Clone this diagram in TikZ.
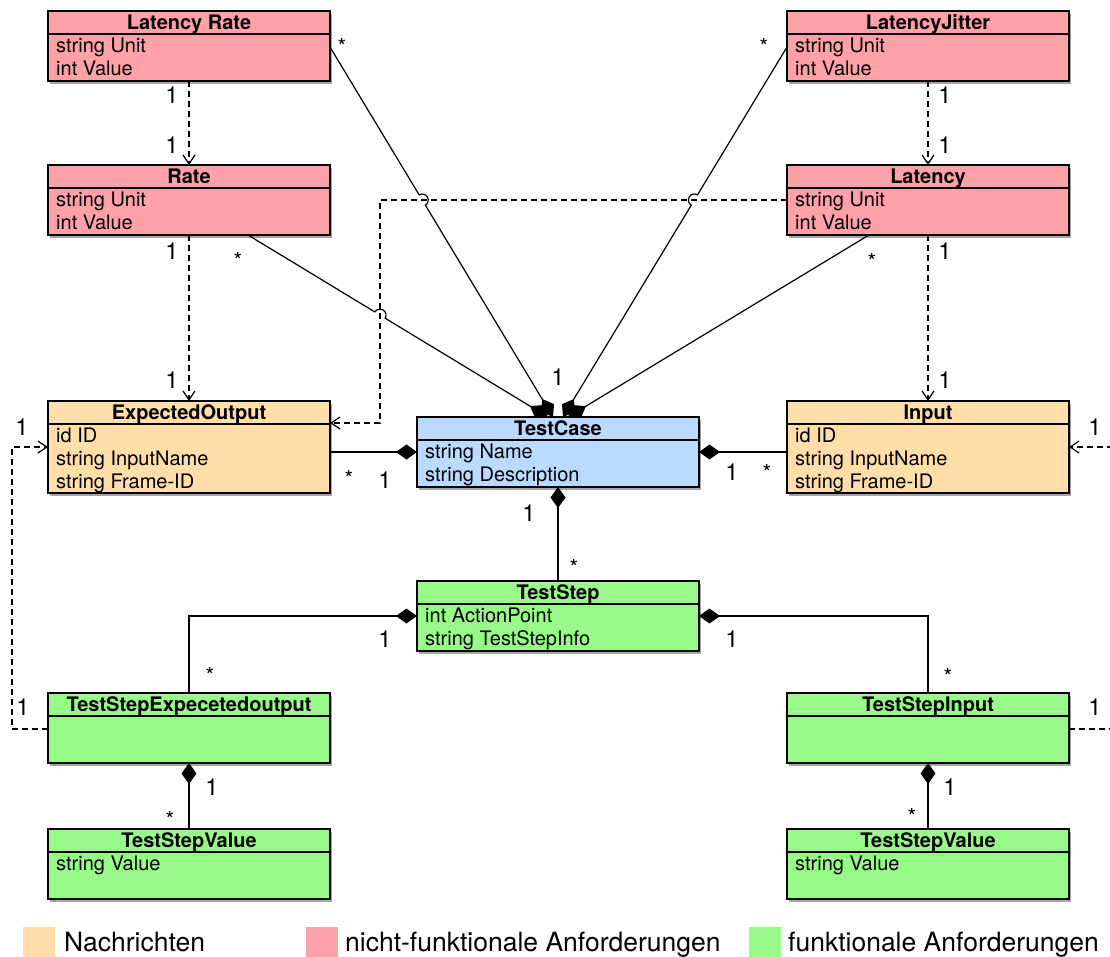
\documentclass[tikz,border=0pt]{standalone}
\usepackage{fontspec}
\setmainfont{TeX Gyre Heros}
\usetikzlibrary{arrows.meta,calc,shadows}

\definecolor{nfr}{RGB}{255,161,168}
\definecolor{msg}{RGB}{255,222,170}
\definecolor{core}{RGB}{186,218,255}
\definecolor{fr}{RGB}{152,250,137}

\tikzset{
  umlbox/.style={draw, line width=1.6pt, inner sep=0pt, outer sep=0pt, anchor=north west,
    minimum width=282pt,
    drop shadow={shadow xshift=1.5pt, shadow yshift=-2.5pt, opacity=0.35, fill=black}},
  ttl/.style={font=\bfseries\fontsize{20}{23}\selectfont, anchor=base, inner sep=0pt},
  attr/.style={font=\fontsize{20}{23}\selectfont, anchor=base west, inner sep=0pt},
  mult/.style={font=\fontsize{23.5}{23}\selectfont, inner sep=0pt, anchor=center},
  star/.style={font=\fontsize{22}{22}\selectfont, inner sep=0pt, anchor=base},
  assoc/.style={line width=1.2pt},
  comp/.style={line width=1.2pt, -{Diamond[length=21pt,width=15pt]}},
  dep/.style={line width=1.2pt, dash pattern=on 6pt off 4pt, -{Straight Barb[length=9pt,width=12pt]}},
  legtext/.style={font=\fontsize{26.5}{26}\selectfont, anchor=base west, inner sep=0pt},
  swatch/.style={anchor=north west, minimum width=32pt, minimum height=32pt, inner sep=0pt, outer sep=0pt},
}

\newcommand{\umlclass}[6]{% name, x, y, height, color, title
  \node[umlbox, fill=#5, minimum height=#4pt] (#1) at (#2,#3) {};
  \draw[line width=1.6pt] ($(#1.north west)+(0,23)$) -- ($(#1.north east)+(0,23)$);
  \node[ttl] (#1-t) at ($(#1.north)+(0,18.5)$) {#6};
}
\newcommand{\umlattrs}[2]{%
  \foreach \a [count=\i] in {#2} {
    \node[attr] (#1-a\i) at ($(#1.north west)+(8,{18.5+23*\i})$) {\a};
  }
}

\begin{document}
\begin{tikzpicture}[x=1pt,y=-1pt]
\useasboundingbox (0,0) rectangle (1110,956);
\clip (0,0) rectangle (1110,956);
\fill[white] (0,0) rectangle (1110,956);

% classes
\umlclass{lr}{48}{11}{70}{nfr}{Latency Rate}
\umlattrs{lr}{string Unit,int Value}
\umlclass{rate}{48}{165}{70}{nfr}{Rate}
\umlattrs{rate}{string Unit,int Value}
\umlclass{lj}{787}{11}{70}{nfr}{LatencyJitter}
\umlattrs{lj}{string Unit,int Value}
\umlclass{lat}{787}{165}{70}{nfr}{Latency}
\umlattrs{lat}{string Unit,int Value}
\umlclass{eo}{48}{401}{92}{msg}{ExpectedOutput}
\umlattrs{eo}{id ID,string InputName,string Frame-ID}
\umlclass{inp}{787}{401}{92}{msg}{Input}
\umlattrs{inp}{id ID,string InputName,string Frame-ID}
\umlclass{tc}{417}{417}{70}{core}{TestCase}
\umlattrs{tc}{string Name,string Description}
\umlclass{ts}{417}{581}{70}{fr}{TestStep}
\umlattrs{ts}{int ActionPoint,string TestStepInfo}
\umlclass{tse}{48}{693}{70}{fr}{TestStepExpecetedoutput}
\umlclass{tsi}{787}{693}{70}{fr}{TestStepInput}
\umlclass{tsv1}{48}{829}{70}{fr}{TestStepValue}
\umlattrs{tsv1}{string Value}
\umlclass{tsv2}{787}{829}{70}{fr}{TestStepValue}
\umlattrs{tsv2}{string Value}

% dependencies (dashed)
\draw[dep] (lr.south) -- (rate.north);
\draw[dep] (rate.south) -- (eo.north);
\draw[dep] (lj.south) -- (lat.north);
\draw[dep] (lat.south) -- (inp.north);

\coordinate (latL) at ($(lat.north west)+(0,35)$);
\coordinate (c0) at (380,200);
\coordinate (c1) at (380,423);
\coordinate (eoR) at ($(eo.north east)+(0,22)$);
\draw[dep] (latL) -- (c0) -- (c1) -- (eoR);

\coordinate (tseL) at ($(tse.north west)+(0,36)$);
\coordinate (eoL) at ($(eo.north west)+(0,46)$);
\draw[dep] (tseL) -- (12,729) -- (12,447) -- (eoL);

\coordinate (tsiR) at ($(tsi.north east)+(0,36)$);
\coordinate (inpR) at ($(inp.north east)+(0,46)$);
\draw[dep] (tsiR) -- (1125,729) -- (1125,447) -- (inpR);

% compositions to TestCase top (with line hops)
\coordinate (lrA) at ($(lr.north east)+(0,36)$);
\coordinate (ljA) at ($(lj.north west)+(0,36)$);
\coordinate (rateA) at ($(rate.south west)+(200,0)$);
\coordinate (latA) at ($(lat.south west)+(82,0)$);
\coordinate (tcA1) at ($(tc.north)+(-5,0)$);
\coordinate (tcA2) at ($(tc.north)+(5,0)$);
\coordinate (tcA3) at ($(tc.north)+(-10,0)$);
\coordinate (tcA4) at ($(tc.north)+(10,0)$);

\coordinate (P1) at (intersection of lrA--tcA1 and latL--c0);
\coordinate (P2) at (intersection of ljA--tcA2 and latL--c0);
\coordinate (P3) at (intersection of rateA--tcA3 and c0--c1);

\draw[comp] let \p1=($(tcA1)-(lrA)$), \n1={atan2(\y1,\x1)} in
  (lrA) -- ($(P1)!6pt!(lrA)$) arc[start angle=\n1+180, delta angle=-180, radius=6pt] -- (tcA1);
\draw[comp] let \p1=($(tcA2)-(ljA)$), \n1={atan2(\y1,\x1)} in
  (ljA) -- ($(P2)!6pt!(ljA)$) arc[start angle=\n1+180, delta angle=180, radius=6pt] -- (tcA2);
\draw[comp] let \p1=($(tcA3)-(rateA)$), \n1={atan2(\y1,\x1)} in
  (rateA) -- ($(P3)!6pt!(rateA)$) arc[start angle=\n1+180, delta angle=-180, radius=6pt] -- (tcA3);
\draw[comp] (latA) -- (tcA4);

% other compositions
\draw[comp] (tc.west -| eo.east) -- (tc.west);
\draw[comp] (tc.east -| inp.west) -- (tc.east);
\draw[comp] (ts.north) -- (tc.south);
\draw[comp] (tse.north) |- (ts.west);
\draw[comp] (tsi.north) |- (ts.east);
\draw[comp] (tsv1.north) -- (tse.south);
\draw[comp] (tsv2.north) -- (tsi.south);

% multiplicities
\node[mult] (m1) at (172,95) {1};
\node[mult] (m2) at (172,145) {1};
\node[mult] (m3) at (172,251) {1};
\node[mult] (m4) at (172,380) {1};
\node[mult] (m5) at (945,95) {1};
\node[mult] (m6) at (945,145) {1};
\node[mult] (m7) at (945,251) {1};
\node[mult] (m8) at (945,380) {1};
\node[mult] (m9) at (558,377) {1};
\node[mult] (m10) at (385,480) {1};
\node[mult] (m11) at (732,472) {1};
\node[mult] (m12) at (529,513) {1};
\node[mult] (m13) at (385,639) {1};
\node[mult] (m14) at (732,639) {1};
\node[mult] (m15) at (22,427) {1};
\node[mult] (m16) at (23,707) {1};
\node[mult] (m17) at (1095,427) {1};
\node[mult] (m18) at (1095,707) {1};
\node[mult] (m19) at (212,787) {1};
\node[mult] (m20) at (950,787) {1};

\node[star] (s1) at (342,54) {*};
\node[star] (s2) at (764,54) {*};
\node[star] (s3) at (238,268) {*};
\node[star] (s4) at (872,269) {*};
\node[star] (s5) at (349,486) {*};
\node[star] (s6) at (767,480) {*};
\node[star] (s7) at (574,575) {*};
\node[star] (s8) at (210,683) {*};
\node[star] (s9) at (948,684) {*};
\node[star] (s10) at (170,827) {*};
\node[star] (s11) at (912,824) {*};

% legend
\node[swatch, fill=msg] (sw1) at (23,927) {};
\node[legtext] (lg1) at (64,951) {Nachrichten};
\node[swatch, fill=nfr] (sw2) at (306,927) {};
\node[legtext] (lg2) at (345,951) {nicht-funktionale Anforderungen};
\node[swatch, fill=fr] (sw3) at (749,927) {};
\node[legtext] (lg3) at (788,951) {funktionale Anforderungen};
\end{tikzpicture}
\end{document}
